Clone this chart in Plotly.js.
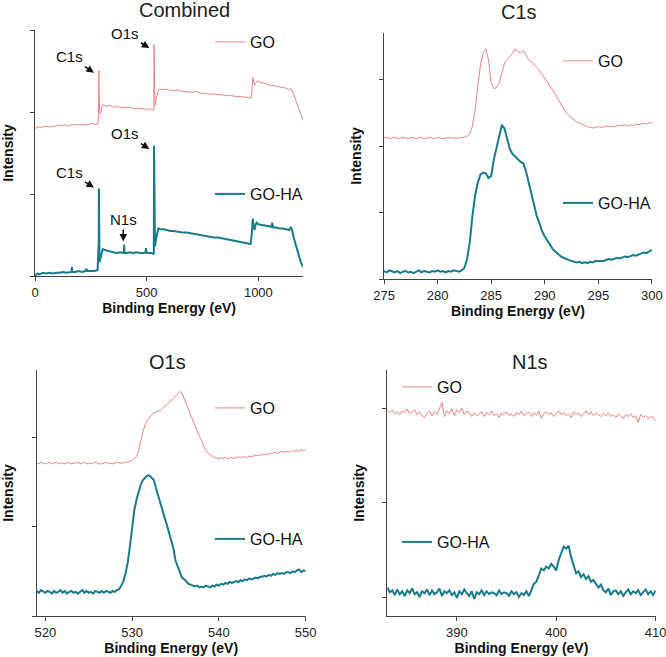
<!DOCTYPE html>
<html>
<head>
<meta charset="utf-8">
<script src="https://cdn.plot.ly/plotly-3.0.1.min.js"></script>
<style>
  html, body { margin: 0; padding: 0; background: #fff; }
  #xps-chart { width: 666px; height: 657px; }
</style>
</head>
<body>
<div id="xps-chart"></div>
<script>
// survey spectra (combined panel)
var surveyGoX = [
    0, 15, 30, 45, 60, 75, 90, 105, 120, 135,
    150, 165, 180, 195, 210, 225, 240, 255, 270, 283,
    285, 286, 287, 289, 292, 295, 300, 305, 310, 320,
    335, 350, 365, 380, 395, 410, 425, 440, 455, 470,
    485, 500, 515, 530, 532, 533, 534, 536, 538, 541,
    545, 550, 556, 565, 580, 600, 620, 640, 660, 680,
    700, 720, 740, 760, 780, 800, 820, 840, 860, 880,
    900, 920, 940, 955, 968, 972, 975, 978, 983, 990,
    996, 1010, 1030, 1050, 1070, 1090, 1110, 1125, 1135, 1145,
    1152, 1165, 1180, 1195, 1200
];
var surveyGoY = [
    1.80, 1.82, 1.81, 1.83, 1.82, 1.82, 1.83, 1.84, 1.83, 1.84,
    1.83, 1.85, 1.84, 1.85, 1.84, 1.85, 1.85, 1.86, 1.85, 1.86,
    2.20, 2.51, 2.25, 2.02, 1.98, 2.00, 2.07, 2.09, 2.08, 2.07,
    2.08, 2.06, 2.07, 2.05, 2.06, 2.05, 2.06, 2.04, 2.05, 2.04,
    2.04, 2.03, 2.04, 2.02, 2.03, 2.82, 2.55, 2.20, 2.08, 2.14,
    2.20, 2.25, 2.28, 2.27, 2.28, 2.27, 2.26, 2.27, 2.25, 2.25,
    2.24, 2.25, 2.23, 2.23, 2.22, 2.22, 2.21, 2.21, 2.20, 2.20,
    2.19, 2.19, 2.18, 2.17, 2.17, 2.30, 2.42, 2.38, 2.33, 2.36,
    2.38, 2.36, 2.35, 2.33, 2.32, 2.31, 2.30, 2.29, 2.27, 2.29,
    2.26, 2.16, 2.04, 1.92, 1.90
];
var surveyGoHaX = [
    0, 10, 20, 35, 50, 65, 80, 95, 110, 125,
    140, 155, 163, 165, 167, 180, 195, 210, 225, 230,
    234, 250, 265, 280, 285, 286, 287, 289, 292, 297,
    303, 310, 320, 335, 350, 365, 380, 395, 398, 399,
    401, 410, 425, 440, 455, 470, 485, 495, 497, 499,
    510, 520, 530, 532, 533, 534, 535, 537, 542, 547,
    552, 560, 575, 590, 605, 620, 640, 660, 680, 700,
    720, 740, 760, 780, 800, 820, 840, 860, 880, 900,
    920, 940, 955, 965, 970, 975, 979, 983, 988, 993,
    1000, 1015, 1030, 1045, 1058, 1062, 1066, 1080, 1095, 1110,
    1125, 1138, 1145, 1150, 1160, 1175, 1190, 1200
];
var surveyGoHaY = [
    0.00, 0.03, 0.02, 0.04, 0.03, 0.04, 0.03, 0.04, 0.04, 0.05,
    0.04, 0.05, 0.05, 0.11, 0.05, 0.05, 0.06, 0.05, 0.06, 0.09,
    0.06, 0.06, 0.06, 0.07, 0.40, 1.07, 0.40, 0.17, 0.20, 0.28,
    0.33, 0.32, 0.31, 0.30, 0.29, 0.28, 0.29, 0.28, 0.28, 0.38,
    0.28, 0.28, 0.29, 0.28, 0.29, 0.28, 0.28, 0.29, 0.34, 0.28,
    0.28, 0.28, 0.27, 0.28, 1.59, 0.90, 0.50, 0.36, 0.45, 0.54,
    0.58, 0.57, 0.57, 0.56, 0.55, 0.55, 0.54, 0.53, 0.53, 0.52,
    0.51, 0.50, 0.49, 0.48, 0.47, 0.47, 0.46, 0.45, 0.44, 0.43,
    0.42, 0.41, 0.40, 0.39, 0.50, 0.70, 0.60, 0.56, 0.63, 0.65,
    0.63, 0.62, 0.61, 0.60, 0.60, 0.65, 0.59, 0.59, 0.58, 0.58,
    0.57, 0.56, 0.59, 0.57, 0.45, 0.30, 0.17, 0.11
];

// C1s region, 0.25 eV steps
var c1sX = [
    275, 275.25, 275.5, 275.75, 276, 276.25, 276.5, 276.75,
    277, 277.25, 277.5, 277.75, 278, 278.25, 278.5, 278.75,
    279, 279.25, 279.5, 279.75, 280, 280.25, 280.5, 280.75,
    281, 281.25, 281.5, 281.75, 282, 282.25, 282.5, 282.75,
    283, 283.25, 283.5, 283.75, 284, 284.25, 284.5, 284.75,
    285, 285.25, 285.5, 285.75, 286, 286.25, 286.5, 286.75,
    287, 287.25, 287.5, 287.75, 288, 288.25, 288.5, 288.75,
    289, 289.25, 289.5, 289.75, 290, 290.25, 290.5, 290.75,
    291, 291.25, 291.5, 291.75, 292, 292.25, 292.5, 292.75,
    293, 293.25, 293.5, 293.75, 294, 294.25, 294.5, 294.75,
    295, 295.25, 295.5, 295.75, 296, 296.25, 296.5, 296.75,
    297, 297.25, 297.5, 297.75, 298, 298.25, 298.5, 298.75,
    299, 299.25, 299.5, 299.75, 300
];
var c1sGoY = [
    2.12, 2.13, 2.11, 2.12, 2.13, 2.11, 2.12, 2.13,
    2.12, 2.11, 2.13, 2.12, 2.11, 2.12, 2.13, 2.11,
    2.12, 2.13, 2.12, 2.11, 2.13, 2.12, 2.11, 2.12,
    2.13, 2.12, 2.12, 2.11, 2.12, 2.13, 2.13, 2.15,
    2.18, 2.30, 2.55, 2.90, 3.22, 3.40, 3.46, 3.30,
    2.95, 2.86, 2.88, 2.95, 3.10, 3.25, 3.30, 3.35,
    3.39, 3.46, 3.42, 3.40, 3.44, 3.36, 3.30, 3.27,
    3.22, 3.18, 3.14, 3.08, 3.03, 2.98, 2.92, 2.86,
    2.78, 2.70, 2.63, 2.57, 2.50, 2.46, 2.42, 2.39,
    2.36, 2.34, 2.32, 2.30, 2.29, 2.28, 2.27, 2.28,
    2.29, 2.28, 2.29, 2.30, 2.29, 2.30, 2.29, 2.31,
    2.30, 2.31, 2.32, 2.30, 2.32, 2.31, 2.33, 2.32,
    2.33, 2.34, 2.33, 2.35, 2.35
];
var c1sGoHaY = [
    0.12, 0.10, 0.13, 0.11, 0.10, 0.12, 0.09, 0.11,
    0.12, 0.10, 0.11, 0.09, 0.11, 0.13, 0.10, 0.12,
    0.11, 0.10, 0.12, 0.11, 0.13, 0.11, 0.12, 0.10,
    0.12, 0.11, 0.13, 0.12, 0.11, 0.13, 0.17, 0.30,
    0.55, 0.95, 1.25, 1.45, 1.57, 1.60, 1.59, 1.52,
    1.55, 1.80, 1.98, 2.15, 2.32, 2.26, 2.10, 1.95,
    1.88, 1.84, 1.80, 1.76, 1.74, 1.62, 1.45, 1.28,
    1.10, 0.95, 0.84, 0.72, 0.64, 0.57, 0.50, 0.45,
    0.41, 0.37, 0.34, 0.32, 0.30, 0.28, 0.27, 0.26,
    0.25, 0.26, 0.24, 0.25, 0.24, 0.26, 0.25, 0.27,
    0.27, 0.28, 0.27, 0.29, 0.30, 0.29, 0.31, 0.32,
    0.31, 0.33, 0.34, 0.33, 0.35, 0.36, 0.35, 0.37,
    0.38, 0.40, 0.39, 0.42, 0.44
];

// O1s region, 0.25 eV steps
var o1sX = [
    519, 519.25, 519.5, 519.75, 520, 520.25, 520.5, 520.75,
    521, 521.25, 521.5, 521.75, 522, 522.25, 522.5, 522.75,
    523, 523.25, 523.5, 523.75, 524, 524.25, 524.5, 524.75,
    525, 525.25, 525.5, 525.75, 526, 526.25, 526.5, 526.75,
    527, 527.25, 527.5, 527.75, 528, 528.25, 528.5, 528.75,
    529, 529.25, 529.5, 529.75, 530, 530.25, 530.5, 530.75,
    531, 531.25, 531.5, 531.75, 532, 532.25, 532.5, 532.75,
    533, 533.25, 533.5, 533.75, 534, 534.25, 534.5, 534.75,
    535, 535.25, 535.5, 535.75, 536, 536.25, 536.5, 536.75,
    537, 537.25, 537.5, 537.75, 538, 538.25, 538.5, 538.75,
    539, 539.25, 539.5, 539.75, 540, 540.25, 540.5, 540.75,
    541, 541.25, 541.5, 541.75, 542, 542.25, 542.5, 542.75,
    543, 543.25, 543.5, 543.75, 544, 544.25, 544.5, 544.75,
    545, 545.25, 545.5, 545.75, 546, 546.25, 546.5, 546.75,
    547, 547.25, 547.5, 547.75, 548, 548.25, 548.5, 548.75,
    549, 549.25, 549.5, 549.75, 550
];
var o1sGoY = [
    1.71, 1.70, 1.72, 1.71, 1.70, 1.71, 1.72, 1.70,
    1.71, 1.72, 1.70, 1.71, 1.71, 1.70, 1.72, 1.71,
    1.70, 1.71, 1.71, 1.72, 1.70, 1.71, 1.72, 1.70,
    1.71, 1.70, 1.71, 1.72, 1.71, 1.70, 1.70, 1.71,
    1.72, 1.70, 1.71, 1.70, 1.71, 1.72, 1.71, 1.71,
    1.71, 1.72, 1.72, 1.73, 1.74, 1.76, 1.78, 1.85,
    1.97, 2.06, 2.14, 2.19, 2.22, 2.25, 2.27, 2.28,
    2.29, 2.30, 2.32, 2.34, 2.36, 2.39, 2.41, 2.43,
    2.46, 2.48, 2.51, 2.49, 2.43, 2.37, 2.30, 2.23,
    2.17, 2.11, 2.06, 2.01, 1.96, 1.90, 1.85, 1.82,
    1.80, 1.78, 1.77, 1.77, 1.76, 1.77, 1.76, 1.77,
    1.76, 1.77, 1.77, 1.76, 1.77, 1.78, 1.77, 1.78,
    1.78, 1.77, 1.79, 1.78, 1.79, 1.80, 1.79, 1.80,
    1.80, 1.81, 1.80, 1.82, 1.81, 1.82, 1.83, 1.82,
    1.83, 1.84, 1.83, 1.84, 1.84, 1.83, 1.85, 1.84,
    1.85, 1.84, 1.86, 1.85, 1.86
];
var o1sGoHaY = [
    0.28, 0.26, 0.29, 0.27, 0.26, 0.28, 0.27, 0.25,
    0.28, 0.26, 0.27, 0.29, 0.26, 0.28, 0.25, 0.27,
    0.28, 0.26, 0.27, 0.25, 0.27, 0.29, 0.26, 0.28,
    0.26, 0.27, 0.25, 0.28, 0.27, 0.26, 0.28, 0.26,
    0.28, 0.27, 0.26, 0.28, 0.27, 0.29, 0.30, 0.34,
    0.39, 0.48, 0.60, 0.78, 1.00, 1.18, 1.30, 1.40,
    1.47, 1.52, 1.55, 1.57, 1.57, 1.55, 1.52, 1.43,
    1.34, 1.26, 1.18, 1.10, 1.02, 0.94, 0.85, 0.76,
    0.62, 0.55, 0.48, 0.43, 0.41, 0.38, 0.36, 0.35,
    0.34, 0.33, 0.34, 0.32, 0.33, 0.32, 0.34, 0.33,
    0.32, 0.34, 0.33, 0.35, 0.34, 0.36, 0.35, 0.37,
    0.36, 0.38, 0.37, 0.38, 0.39, 0.38, 0.40, 0.39,
    0.41, 0.40, 0.42, 0.41, 0.42, 0.43, 0.42, 0.44,
    0.44, 0.45, 0.44, 0.46, 0.45, 0.47, 0.46, 0.48,
    0.47, 0.48, 0.47, 0.49, 0.49, 0.48, 0.50, 0.49,
    0.51, 0.52, 0.49, 0.51, 0.50
];

// N1s region, 0.25 eV steps
var n1sX = [
    383, 383.25, 383.5, 383.75, 384, 384.25, 384.5, 384.75,
    385, 385.25, 385.5, 385.75, 386, 386.25, 386.5, 386.75,
    387, 387.25, 387.5, 387.75, 388, 388.25, 388.5, 388.75,
    389, 389.25, 389.5, 389.75, 390, 390.25, 390.5, 390.75,
    391, 391.25, 391.5, 391.75, 392, 392.25, 392.5, 392.75,
    393, 393.25, 393.5, 393.75, 394, 394.25, 394.5, 394.75,
    395, 395.25, 395.5, 395.75, 396, 396.25, 396.5, 396.75,
    397, 397.25, 397.5, 397.75, 398, 398.25, 398.5, 398.75,
    399, 399.25, 399.5, 399.75, 400, 400.25, 400.5, 400.75,
    401, 401.25, 401.5, 401.75, 402, 402.25, 402.5, 402.75,
    403, 403.25, 403.5, 403.75, 404, 404.25, 404.5, 404.75,
    405, 405.25, 405.5, 405.75, 406, 406.25, 406.5, 406.75,
    407, 407.25, 407.5, 407.75, 408, 408.25, 408.5, 408.75,
    409, 409.25, 409.5, 409.75, 410
];
var n1sGoY = [
    1.97, 1.95, 1.98, 1.94, 1.96, 1.93, 1.97, 1.95,
    1.99, 1.94, 1.96, 1.98, 1.93, 1.96, 1.92, 1.90,
    1.94, 1.97, 1.92, 1.96, 1.93, 2.00, 2.06, 1.91,
    1.97, 1.94, 1.99, 1.92, 1.98, 1.95, 2.00, 1.93,
    1.97, 1.95, 1.91, 1.95, 1.92, 1.94, 1.96, 1.91,
    1.95, 1.93, 1.97, 1.92, 1.94, 1.90, 1.95, 1.93,
    1.96, 1.92, 1.94, 1.91, 1.95, 1.93, 1.97, 1.92,
    1.94, 1.96, 1.91, 1.95, 1.92, 1.97, 1.89, 1.94,
    1.96, 1.93, 1.95, 1.91, 1.94, 1.97, 1.93, 1.95,
    1.92, 1.94, 1.90, 1.96, 1.93, 1.95, 1.91, 1.94,
    1.97, 1.93, 1.96, 1.92, 1.95, 1.93, 1.91, 1.94,
    1.92, 1.95, 1.91, 1.93, 1.90, 1.94, 1.92, 1.89,
    1.93, 1.91, 1.94, 1.90, 1.92, 1.85, 1.93, 1.90,
    1.92, 1.89, 1.91, 1.90, 1.86
];
var n1sGoHaY = [
    0.11, 0.06, 0.08, 0.03, 0.09, 0.04, 0.07, 0.02,
    0.08, 0.05, 0.10, 0.04, 0.06, 0.01, 0.07, 0.05,
    0.09, 0.03, 0.08, 0.04, 0.06, 0.10, 0.02, 0.07,
    0.05, 0.08, 0.03, 0.06, 0.00, 0.07, 0.04, 0.09,
    0.05, 0.02, 0.07, -0.01, 0.06, 0.04, 0.08, 0.03,
    0.07, 0.04, 0.06, 0.05, 0.03, 0.08, 0.04, 0.06,
    0.05, 0.02, 0.07, 0.04, 0.06, 0.01, 0.05, 0.03,
    0.07, 0.02, 0.08, 0.15, 0.17, 0.24, 0.31, 0.29,
    0.33, 0.31, 0.36, 0.33, 0.29, 0.40, 0.47, 0.54,
    0.52, 0.55, 0.43, 0.34, 0.26, 0.28, 0.22, 0.25,
    0.20, 0.23, 0.17, 0.19, 0.15, 0.11, 0.14, 0.08,
    0.06, 0.10, 0.03, 0.07, 0.08, 0.04, 0.07, 0.02,
    0.06, 0.09, 0.04, 0.07, 0.05, 0.08, 0.03, 0.06,
    0.09, 0.04, 0.07, 0.03, 0.08
];

var seriesNames = ['GO', 'GO-HA'];
var panelTitles = ['Combined', 'C1s', 'O1s', 'N1s'];

var colorGO = '#EE8282';
var colorGOHA = '#187C8C';
var fontFamily = '"Liberation Sans", Arial, sans-serif';

function spectrumTrace(x, y, series, panel) {
    var isGO = series === 0;
    var axisSuffix = panel === 1 ? '' : String(panel);
    var legendIndex = (panel - 1) * 2 + series + 1;
    return {
        x: x,
        y: y,
        type: 'scatter',
        mode: 'lines',
        name: seriesNames[series],
        xaxis: 'x' + axisSuffix,
        yaxis: 'y' + axisSuffix,
        legend: legendIndex === 1 ? 'legend' : 'legend' + legendIndex,
        line: { color: isGO ? colorGO : colorGOHA, width: isGO ? 1 : 2 },
        hoverinfo: 'x+y'
    };
}

var traces = [
    spectrumTrace(surveyGoX, surveyGoY, 0, 1),
    spectrumTrace(surveyGoHaX, surveyGoHaY, 1, 1),
    spectrumTrace(c1sX, c1sGoY, 0, 2),
    spectrumTrace(c1sX, c1sGoHaY, 1, 2),
    spectrumTrace(o1sX, o1sGoY, 0, 3),
    spectrumTrace(o1sX, o1sGoHaY, 1, 3),
    spectrumTrace(n1sX, n1sGoY, 0, 4),
    spectrumTrace(n1sX, n1sGoHaY, 1, 4)
];

function xAxis(domain, anchor, range, tickvals) {
    return {
        domain: domain,
        anchor: anchor,
        range: range,
        tickvals: tickvals,
        showline: true,
        linecolor: '#444',
        linewidth: 1,
        ticks: 'outside',
        ticklen: 4,
        tickcolor: '#444',
        showgrid: false,
        zeroline: false,
        ticklabeloverflow: 'allow',
        tickfont: { family: fontFamily, size: 13, color: '#222' },
        title: {
            text: 'Binding Energy (eV)',
            font: { family: fontFamily, size: 14, color: '#111', weight: 'bold' },
            standoff: 4
        }
    };
}

function yAxis(domain, anchor, range, tickvals) {
    return {
        domain: domain,
        anchor: anchor,
        range: range,
        tickvals: tickvals,
        showticklabels: false,
        showline: true,
        linecolor: '#444',
        linewidth: 1,
        ticks: 'outside',
        ticklen: 4,
        tickcolor: '#444',
        showgrid: false,
        zeroline: false,
        title: {
            text: 'Intensity',
            font: { family: fontFamily, size: 14, color: '#111', weight: 'bold' },
            standoff: 14
        }
    };
}

function legendAt(textLeftPx, centerYPx) {
    return {
        x: (textLeftPx - 40) / 666,
        y: 1 - centerYPx / 657,
        xanchor: 'left',
        yanchor: 'middle',
        bgcolor: 'rgba(0,0,0,0)',
        borderwidth: 0,
        font: { family: fontFamily, size: 16, color: '#111' }
    };
}

function panelTitle(text, xPx, yPx) {
    return {
        text: text,
        xref: 'paper',
        yref: 'paper',
        x: xPx / 666,
        y: 1 - yPx / 657,
        xanchor: 'center',
        yanchor: 'middle',
        showarrow: false,
        font: { family: fontFamily, size: 20, color: '#222' }
    };
}

function peakLabel(text, x, y, ax, ay) {
    return {
        text: text,
        xref: 'x',
        yref: 'y',
        x: x,
        y: y,
        ax: ax,
        ay: ay,
        showarrow: true,
        arrowhead: 2,
        arrowsize: 1,
        arrowwidth: 1.5,
        arrowcolor: '#111',
        standoff: 0,
        font: { family: fontFamily, size: 15, color: '#111' }
    };
}

var layout = {
    width: 666,
    height: 657,
    margin: { l: 0, r: 0, t: 0, b: 0 },
    paper_bgcolor: '#fff',
    plot_bgcolor: 'rgba(0,0,0,0)',
    font: { family: fontFamily, color: '#222' },
    showlegend: true,

    xaxis: xAxis([0.0526, 0.4550], 'y', [0, 1200], [0, 500, 1000]),
    yaxis: yAxis([0.5799, 0.9543], 'x', [0, 3], [0, 1, 2, 3]),
    xaxis2: xAxis([0.5766, 0.9790], 'y2', [275, 300.01], [275, 280, 285, 290, 295, 300]),
    yaxis2: yAxis([0.5753, 0.9498], 'x2', [0, 3.7], [0, 1, 2, 3]),
    xaxis3: xAxis([0.0551, 0.4590], 'y3', [519, 550.01], [520, 530, 540, 550]),
    yaxis3: yAxis([0.0624, 0.4368], 'x3', [0, 2.75], [0, 1, 2]),
    xaxis4: xAxis([0.5815, 0.9845], 'y4', [383, 410.01], [390, 400, 410]),
    yaxis4: yAxis([0.0624, 0.4368], 'x4', [-0.19, 2.4], [0, 1, 2]),

    legend: legendAt(250, 42),
    legend2: legendAt(250, 194),
    legend3: legendAt(598, 61),
    legend4: legendAt(598, 203),
    legend5: legendAt(250, 408),
    legend6: legendAt(250, 539),
    legend7: legendAt(437, 387),
    legend8: legendAt(437, 542),

    annotations: [
        panelTitle(panelTitles[0], 184, 10),
        panelTitle(panelTitles[1], 519, 12),
        panelTitle(panelTitles[2], 168, 362),
        panelTitle(panelTitles[3], 530, 362),
        peakLabel('C1s', 264, 2.48, -24, -16),
        peakLabel('O1s', 512, 2.78, -24, -15),
        peakLabel('C1s', 264, 1.08, -24, -15),
        peakLabel('O1s', 512, 1.55, -24, -15),
        peakLabel('N1s', 395, 0.42, 0, -22)
    ]
};

Plotly.newPlot('xps-chart', traces, layout, { displayModeBar: false, staticPlot: true });
</script>
</body>
</html>
